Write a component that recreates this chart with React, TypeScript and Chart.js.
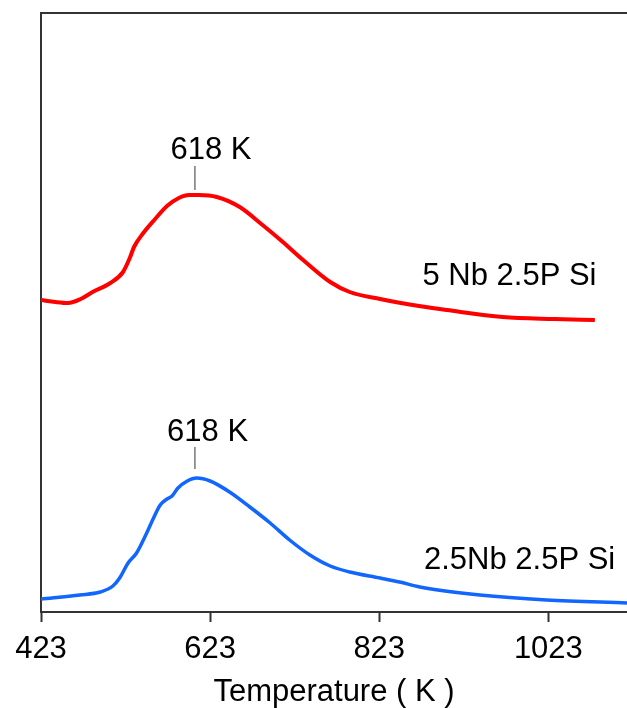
import React, { useEffect, useRef } from "react";
import { Chart, registerables } from "chart.js";

Chart.register(...registerables);

// Temperature (K) and intensity (a.u.)
const redTemps = [423, 440, 455, 470, 484, 505, 520, 528, 533, 544, 558, 572, 586, 598, 610, 631, 658, 685, 709, 733, 765, 788, 824, 870, 903, 969, 1030, 1078];
const redValues = [312, 310, 309, 313, 320, 329, 340, 354, 365, 379, 393, 406, 414, 417, 417, 415, 405, 387, 370, 352, 330, 320, 313, 306, 302, 295, 293, 292];

const blueTemps = [423, 469, 493, 508, 516, 526, 536, 548, 555, 564, 572, 578, 585, 596, 607, 623, 646, 670, 694, 717, 741, 765, 788, 824, 847, 871, 942, 1021, 1116];
const blueValues = [13, 17, 20, 26, 34, 49, 59, 79, 92, 107, 113, 116, 124, 131, 134, 131, 120, 105, 89, 72, 57, 46, 40, 34, 30, 25, 17, 12, 9];

const xTicks = [423, 623, 823, 1023];
const seriesNames = ["5 Nb 2.5P Si", "2.5Nb 2.5P Si"];
const seriesNameX = [977, 989];
const seriesNameY = [336, 52];

const peakLabels = ["618 K", "618 K"];
const peakMarkT = [605, 605];
const peakMarkFrom = [422, 143];
const peakMarkTo = [446, 165];
const peakLabelX = [624, 620];
const peakLabelY = [462, 180];

const FONT = "'Liberation Sans', Arial, sans-serif";
const FS = 31;

const textPlugin = {
  id: "textPlugin",
  afterDatasetsDraw(chart: any) {
    const { ctx, scales } = chart;
    const xs = scales.x;
    const ys = scales.y;
    ctx.save();
    ctx.strokeStyle = "#777";
    ctx.lineWidth = 1.5;
    for (let i = 0; i < peakMarkT.length; i++) {
      const px = xs.getPixelForValue(peakMarkT[i]);
      ctx.beginPath();
      ctx.moveTo(px, ys.getPixelForValue(peakMarkFrom[i]));
      ctx.lineTo(px, ys.getPixelForValue(peakMarkTo[i]));
      ctx.stroke();
    }
    ctx.fillStyle = "#000";
    ctx.font = `${FS}px ${FONT}`;
    ctx.textAlign = "center";
    ctx.textBaseline = "middle";
    for (let i = 0; i < peakLabels.length; i++) {
      ctx.fillText(peakLabels[i], xs.getPixelForValue(peakLabelX[i]), ys.getPixelForValue(peakLabelY[i]));
    }
    for (let i = 0; i < seriesNames.length; i++) {
      ctx.fillText(seriesNames[i], xs.getPixelForValue(seriesNameX[i]), ys.getPixelForValue(seriesNameY[i]));
    }
    ctx.restore();
  },
};

export default function App() {
  const ref = useRef<HTMLCanvasElement>(null);
  useEffect(() => {
    if (!ref.current) return;
    const chart = new Chart(ref.current, {
      type: "line",
      data: {
        datasets: [
          {
            label: seriesNames[0],
            data: redTemps.map((t, i) => ({ x: t, y: redValues[i] })),
            borderColor: "#ff0000",
            borderWidth: 4,
            pointRadius: 0,
            cubicInterpolationMode: "monotone",
            fill: false,
          },
          {
            label: seriesNames[1],
            data: blueTemps.map((t, i) => ({ x: t, y: blueValues[i] })),
            borderColor: "#1166ff",
            borderWidth: 3.5,
            pointRadius: 0,
            cubicInterpolationMode: "monotone",
            fill: false,
          },
        ],
      },
      options: {
        responsive: false,
        animation: false,
        devicePixelRatio: 1,
        layout: { padding: 0 },
        plugins: { legend: { display: false }, tooltip: { enabled: false } },
        scales: {
          x: {
            type: "linear",
            position: "bottom",
            min: 423,
            max: 1116,
            afterBuildTicks: (axis: any) => {
              axis.ticks = xTicks.map((v) => ({ value: v }));
            },
            afterFit: (axis: any) => {
              axis.height = 96;
            },
            ticks: {
              font: { family: FONT, size: FS },
              color: "#000",
              padding: 9,
              maxRotation: 0,
              autoSkip: false,
              callback: (v: any) => String(v),
            },
            grid: {
              drawOnChartArea: false,
              drawTicks: true,
              tickLength: 10,
              color: "#333",
              tickWidth: 2,
            },
            border: { display: true, color: "#333", width: 2 },
            title: {
              display: true,
              text: "Temperature ( K )",
              color: "#000",
              font: { family: FONT, size: FS, lineHeight: 1.0 },
              padding: { top: 0, bottom: 0 },
            },
          },
          x2: {
            type: "linear",
            position: "top",
            min: 423,
            max: 1116,
            afterFit: (axis: any) => {
              axis.height = 13;
            },
            ticks: { display: false },
            grid: { display: false, drawTicks: false },
            border: { display: true, color: "#333", width: 2 },
          },
          y: {
            type: "linear",
            min: 0,
            max: 599,
            afterFit: (axis: any) => {
              axis.width = 41;
            },
            ticks: { display: false },
            grid: { display: false, drawTicks: false },
            border: { display: true, color: "#333", width: 2 },
          },
        },
      },
      plugins: [textPlugin],
    });
    return () => chart.destroy();
  }, []);
  return (
    <div style={{ position: "absolute", left: 0, top: 0, width: 627, height: 708, background: "#fff" }}>
      <canvas ref={ref} width={627} height={708} />
    </div>
  );
}
